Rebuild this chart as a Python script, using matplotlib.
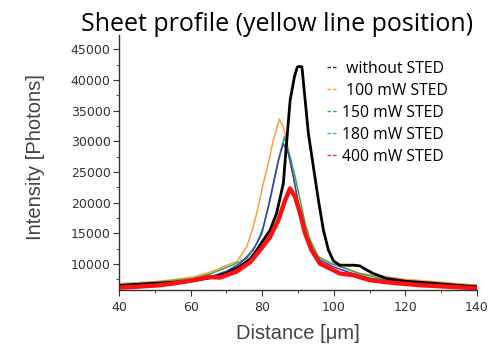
import matplotlib
matplotlib.use("Agg")
import matplotlib.pyplot as plt
from matplotlib.lines import Line2D
from matplotlib.ticker import MultipleLocator

# profile data
x_black = [40, 48, 55, 61, 66, 70, 74, 76.6, 78.5, 80.3, 82.2, 84.0, 85.9, 86.8, 87.8, 89, 89.8,
           90.5, 91.1, 92.0, 92.9, 94.3, 95.7, 97.1, 98.5, 99.9, 101.7, 103.6, 105.5, 107.3, 109,
           111, 114.8, 120, 128.7, 135, 140]
y_black = [6500, 6800, 7000, 7300, 7800, 8500, 9700, 10800, 12260, 13890, 15520, 18230, 23120,
           29640, 36690, 40500, 42100, 42200, 42100, 36690, 31270, 25830, 20400, 15520, 12260,
           10500, 9810, 9810, 9810, 9700, 9100, 8460, 7640, 7200, 6830, 6500, 6300]

x_orange = [40, 49.6, 55, 60.8, 65, 68.2, 70.5, 72.9, 75.7, 77.5, 78.9, 80.3, 81.7, 83.1, 84.8,
            85.9, 86.8, 88.2, 89.6, 91.0, 92.4, 94.3, 96.1, 98.9, 103.6, 107.3, 114.8, 120,
            128.7, 140]
y_orange = [6830, 7100, 7450, 7910, 8600, 9280, 9900, 10400, 12800, 16060, 19310, 23120, 26380,
            30180, 33600, 32340, 30180, 25830, 21490, 17680, 14420, 12260, 10900, 10090, 9280,
            8460, 7910, 7500, 7100, 6560]

x_green = [40, 50, 60.8, 66, 71.9, 75.7, 78.5, 80.3, 82.2, 83.6, 85.0, 86.2, 87.8, 89.2, 90.6,
           92.0, 93.4, 95.7, 98.9, 103, 108, 114.8, 120, 130, 140]
y_green = [6600, 7000, 7640, 8500, 9900, 10900, 13350, 16060, 20400, 24200, 28010, 30720, 27460,
           24200, 20400, 16600, 13890, 11170, 10200, 9300, 8300, 7500, 7100, 6700, 6500]

x_blue = [40, 50, 60.8, 66, 70.1, 73.8, 77.5, 79.9, 81.7, 83.1, 84.5, 85.9, 87.3, 88.7, 90.1,
          91.5, 93.4, 96.1, 99.9, 104, 110, 120, 130, 140]
y_blue = [6400, 6800, 7370, 8000, 8850, 10090, 12260, 14980, 19310, 23120, 26920, 29640, 28010,
          24200, 19860, 16060, 12800, 10630, 9540, 8700, 7700, 6900, 6600, 6400]

x_red = [40, 45, 51.5, 56, 60.8, 65, 68.2, 72.9, 76.6, 79.4, 82.2, 84.5, 86.4, 87.8, 89.2, 90.6,
         92.0, 93.8, 96.1, 99.9, 101.7, 105.5, 110.1, 117, 124.1, 132, 140]
y_red = [6150, 6300, 6560, 6900, 7370, 7900, 7800, 8800, 10300, 12260, 14420, 17140, 20400,
         22310, 20940, 18230, 14980, 12260, 10090, 9000, 8460, 8180, 7370, 6900, 6560, 6300, 6050]

labels = [" without STED", " 100 mW STED", "150 mW STED", "180 mW STED", "400 mW STED"]

fig = plt.figure(figsize=(5, 3.44), dpi=100)
ax = fig.add_axes([0.238, 0.157, 0.716, 0.741])

ax.plot(x_orange, y_orange, color="#f5a040", lw=1.1)
ax.plot(x_green, y_green, color="#3aaa45", lw=1.1)
ax.plot(x_blue, y_blue, color="#3c3cc8", lw=1.1)
ax.plot(x_black, y_black, color="black", lw=2.0)
ax.plot(x_red, y_red, color="#ff1010", lw=3.2)

ax.set_xlim(40, 140)
ax.set_ylim(5770, 47300)
ax.xaxis.set_major_locator(MultipleLocator(20))
ax.xaxis.set_minor_locator(MultipleLocator(10))
ax.yaxis.set_minor_locator(MultipleLocator(2500))
ax.set_yticks([10000, 15000, 20000, 25000, 30000, 35000, 40000, 45000])
ax.spines["top"].set_visible(False)
ax.spines["right"].set_visible(False)
for s in ["left", "bottom"]:
    ax.spines[s].set_color("#333333")
    ax.spines[s].set_linewidth(1.0)
ax.tick_params(which="major", direction="out", length=4, color="#333333", pad=2,
               labelsize=9, labelcolor="#333333")
ax.tick_params(axis="x", which="major", pad=4)
ax.tick_params(which="minor", direction="out", length=2.5, color="#333333")
for lab in ax.get_xticklabels() + ax.get_yticklabels():
    lab.set_family("DejaVu Sans")

ax.set_xlabel("Distance [μm]", fontsize=14.5, color="#444444", family="Liberation Sans")
ax.xaxis.set_label_coords(0.5, -0.169)
ax.xaxis.label.set_va("center")
ax.set_ylabel("Intensity [Photons]", fontsize=14.5, color="#444444", family="Liberation Sans")
ax.yaxis.set_label_coords(-0.232, 0.52)
ax.yaxis.label.set_va("center")

fig.text(0.554, 0.93, "Sheet profile (yellow line position)", fontsize=18, ha="center",
         va="center", family="Open Sans", color="black")

handle_colors = ["#333333", "#f5a040", "#3aaa45", "#33aaee", "#ff3030"]
handles = [Line2D([], [], color=c, lw=1.0, ls=(0, (2.5, 1.5))) for c in handle_colors]
ax.legend(handles, labels, loc="upper left", bbox_to_anchor=(0.654, 0.823),
          bbox_transform=fig.transFigure, frameon=False, borderpad=0, borderaxespad=0,
          handlelength=0.7, handletextpad=0.25, labelspacing=0.38,
          prop={"family": "Open Sans", "size": 11.3})

fig.savefig("out.png", dpi=100)
